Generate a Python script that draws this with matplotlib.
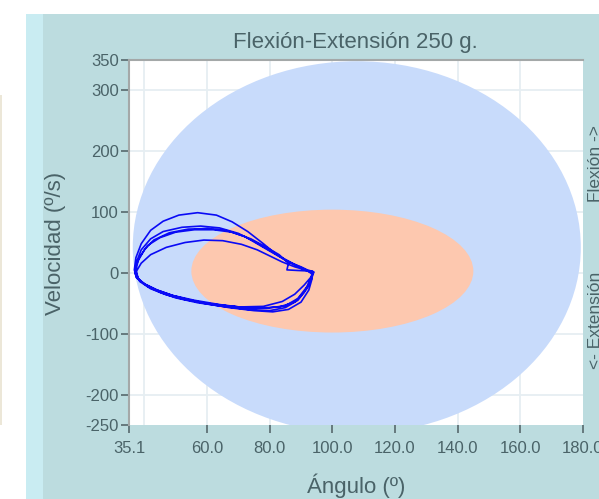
import matplotlib
matplotlib.use("Agg")
import matplotlib.pyplot as plt
from matplotlib.patches import Ellipse, Rectangle

plt.rcParams['font.family'] = ['Liberation Sans', 'DejaVu Sans']

# ---- chart data -------------------------------------------------------
titulo = "Flexión-Extensión 250 g."
etiqueta_x = "Ángulo (º)"
etiqueta_y = "Velocidad (º/s)"
etiqueta_flexion = "Flexión ->"
etiqueta_extension = "<- Extensión"

x_ticks = [35.1, 60.0, 80.0, 100.0, 120.0, 140.0, 160.0, 180.0]
x_tick_labels = ["35.1", "60.0", "80.0", "100.0", "120.0", "140.0", "160.0", "180.0"]
y_ticks = [-250, -200, -100, 0, 100, 200, 300, 350]
y_tick_labels = ["-250", "-200", "-100", "0", "100", "200", "300", "350"]
x_grid = [40, 60, 80, 100, 120, 140, 160]
y_grid = [-200, -100, 0, 100, 200, 300]
x_lim = [35.1, 180.0]
y_lim = [-250, 350]

# normal range (blue) and target range (salmon) as ellipses in data units
zona_normal_centro = (107.8, 42.0)
zona_normal_ancho = 143.0
zona_normal_alto = 612.0
zona_objetivo_centro = (100.0, 3.0)
zona_objetivo_ancho = 90.0
zona_objetivo_alto = 202.0

# recorded angle / angular velocity trace (five cycles)
angulo = [
    94, 92.5, 91, 88, 84, 80, 75, 70, 64, 58, 52, 46, 42, 39, 37.5, 37, 38, 41, 45, 50, 57, 65, 73, 80, 85, 89, 92, 93.5,
    94, 92, 90, 86, 82, 78, 73, 68, 63, 57, 51, 46, 42, 39, 37.3, 36.8, 37.5, 40, 44, 49, 55, 62, 70, 78, 84, 88, 91, 93.5,
    94, 92, 90, 86, 82, 77, 72, 66, 60, 54, 48, 43, 40, 38, 37.2, 38.5, 42, 47, 53, 60, 68, 76, 83, 88, 91, 93,
    93.5, 92, 88, 84, 80, 76, 71, 65, 59, 53, 47, 42, 39, 37.5, 38, 41, 46, 52, 59, 67, 75, 81, 86, 90, 92.5, 93.5,
    93.5, 89, 85.5, 86, 83, 79, 74, 68, 62, 56, 50, 45, 41, 38.5, 37, 37.3, 40, 44, 49, 56, 64, 72, 79, 85, 89, 92, 93.8,
]
velocidad = [
    1, 3, 6, 14, 25, 37, 52, 65, 74, 77, 75, 68, 56, 38, 18, 0, -10, -22, -32, -41, -49, -55, -60, -62, -57, -45, -25, -8,
    2, 5, 10, 18, 31, 48, 68, 84, 95, 99, 95, 85, 70, 48, 25, 5, -8, -18, -28, -37, -45, -52, -56, -55, -47, -35, -20, -5,
    0, 3, 8, 18, 30, 45, 60, 70, 73, 72, 66, 54, 38, 20, 2, -14, -26, -36, -44, -50, -55, -58, -56, -48, -32, -12,
    -2, 4, 10, 18, 28, 38, 47, 53, 54, 50, 42, 30, 16, 3, -10, -22, -33, -42, -50, -57, -62, -64, -60, -48, -28, -10,
    3, 4, 5, 16, 30, 42, 56, 67, 71, 71, 67, 58, 45, 26, 8, -6, -18, -28, -37, -45, -52, -57, -58, -54, -42, -22, 0,
]

# ---- styling ----------------------------------------------------------
W, H, DPI = 599, 499, 100
PANEL = "#bcdcdf"
STRIP = "#c9ecf2"
TEXT = "#4a6368"
TICK = "#56686c"
GRID = "#e6eef2"
AZUL_ZONA = "#c8dbfb"
SALMON = "#fdc8af"
TRAZO = "#0a0af5"


def fx(px):
    return px / W


def fy(py):
    return 1 - py / H


fig = plt.figure(figsize=(W / DPI, H / DPI), dpi=DPI, facecolor="white")

# background panel, its lighter left strip and the thin frame line on the far left
fig.add_artist(Rectangle((fx(26), 0), fx(599) - fx(26), fy(14), transform=fig.transFigure,
                         facecolor=PANEL, edgecolor="none", zorder=0))
fig.add_artist(Rectangle((fx(26), 0), fx(43) - fx(26), fy(14), transform=fig.transFigure,
                         facecolor=STRIP, edgecolor="none", zorder=0))
fig.add_artist(Rectangle((0, fy(425)), fx(2), fy(95) - fy(425), transform=fig.transFigure,
                         facecolor="#ece7d8", edgecolor="none", zorder=0))

ax = fig.add_axes([fx(129), fy(425), fx(583) - fx(129), fy(60) - fy(425)])
ax.set_facecolor("white")
ax.set_xlim(*x_lim)
ax.set_ylim(*y_lim)

for gx in x_grid:
    ax.axvline(gx, color=GRID, lw=1.3, zorder=0)
for gy in y_grid:
    ax.axhline(gy, color=GRID, lw=1.3, zorder=0)

ax.add_patch(Ellipse(zona_normal_centro, zona_normal_ancho, zona_normal_alto,
                     facecolor=AZUL_ZONA, edgecolor="none", zorder=1))
ax.add_patch(Ellipse(zona_objetivo_centro, zona_objetivo_ancho, zona_objetivo_alto,
                     facecolor=SALMON, edgecolor="none", zorder=2))

ax.plot(angulo, velocidad, color=TRAZO, lw=1.2, zorder=3)

ax.set_xticks(x_ticks)
ax.set_xticklabels(x_tick_labels)
ax.set_yticks(y_ticks)
ax.set_yticklabels(y_tick_labels)
ax.tick_params(axis="x", direction="out", length=5.5, width=1.2, color=TICK,
               labelcolor=TEXT, labelsize=12, pad=6)
ax.tick_params(axis="y", direction="out", length=5.5, width=1.2, color=TICK,
               labelcolor=TEXT, labelsize=12, pad=2)

for side in ("right", "bottom"):
    ax.spines[side].set_visible(False)
for side in ("left", "top"):
    ax.spines[side].set_color("#a4a8a8")
    ax.spines[side].set_linewidth(1.5)

fig.text(fx(355), fy(48), titulo, ha="center", va="baseline", fontsize=16, color=TEXT)
fig.text(fx(356), fy(493), etiqueta_x, ha="center", va="baseline", fontsize=16, color=TEXT)
fig.text(fx(56), fy(243), etiqueta_y, ha="center", va="center", rotation=90, fontsize=16, color=TEXT)
fig.text(fx(596), fy(164), etiqueta_flexion, ha="center", va="center", rotation=90, fontsize=12.5, color=TEXT)
fig.text(fx(596), fy(320), etiqueta_extension, ha="center", va="center", rotation=90, fontsize=12.5, color=TEXT)

fig.savefig("out.png", dpi=DPI, facecolor="white")
